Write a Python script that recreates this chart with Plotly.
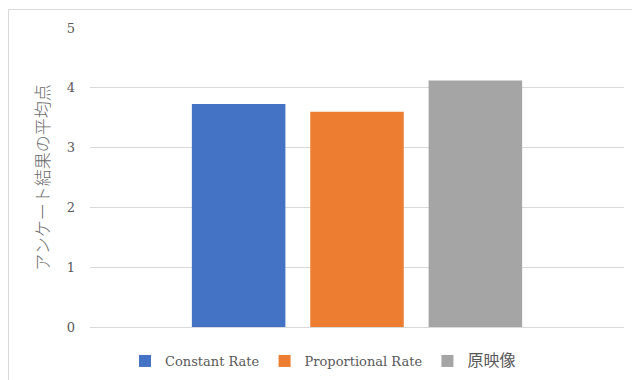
import plotly.graph_objects as go

# Survey averages per playback method
categories = ["平均点"]
series_names = ["Constant Rate", "Proportional Rate", "原映像"]
series_values = [[3.73], [3.60], [4.12]]
series_colors = ["#4472C4", "#ED7D31", "#A5A5A5"]
y_ticks = [0, 1, 2, 3, 4, 5]

TEXT = "#595959"
GRID = "#D9D9D9"
FONT = "DejaVu Serif, Noto Sans CJK JP, serif"


def legend_label(name):
    # CJK names are set a little larger than the Latin ones
    if any(ord(ch) > 0x2E80 for ch in name):
        return "<span style='font-size:16px'>" + name + "</span>"
    return name


fig = go.Figure()
for name, vals, col in zip(series_names, series_values, series_colors):
    fig.add_trace(go.Bar(x=categories, y=vals, name=legend_label(name),
                         marker=dict(color=col, line=dict(width=0))))

W, H = 632, 380
L, R, T, B = 90, 8, 28, 53
pw, ph = W - L - R, H - T - B


def px_x(p):
    return (p - L) / pw


def px_y(p):
    return (H - B - p) / ph


fig.update_layout(
    width=W, height=H,
    margin=dict(l=L, r=R, t=T, b=B),
    paper_bgcolor="white", plot_bgcolor="white",
    barmode="group", bargap=0.335, bargroupgap=0.21,
    font=dict(family=FONT, color=TEXT, size=13),
    xaxis=dict(range=[-0.5, 0.5], showticklabels=False, showgrid=False,
               showline=False, zeroline=False, ticks=""),
    yaxis=dict(range=[0, 5], tickvals=y_ticks, showgrid=True, gridcolor=GRID,
               gridwidth=1, zeroline=True, zerolinecolor=GRID, zerolinewidth=1,
               showline=False, ticks="", ticklabelstandoff=14,
               tickfont=dict(size=13, color=TEXT),
               title=dict(text="アンケート結果の平均点", standoff=12,
                          font=dict(size=17, color="#6a6a6a", weight=300,
                                    family="Noto Sans CJK JP"))),
    legend=dict(orientation="h", x=323 / W, xanchor="center", xref="container",
                y=1 - 361 / H, yanchor="middle", yref="container",
                font=dict(size=13, color=TEXT), traceorder="normal",
                itemwidth=30, bgcolor="rgba(0,0,0,0)"),
    showlegend=True,
)

# Chart area border
fig.add_shape(type="rect", xref="paper", yref="paper",
              x0=px_x(8.5), x1=px_x(640), y0=px_y(390), y1=px_y(9.5),
              line=dict(color=GRID, width=1), fillcolor="rgba(0,0,0,0)",
              layer="below")

fig.write_html("out.html")
